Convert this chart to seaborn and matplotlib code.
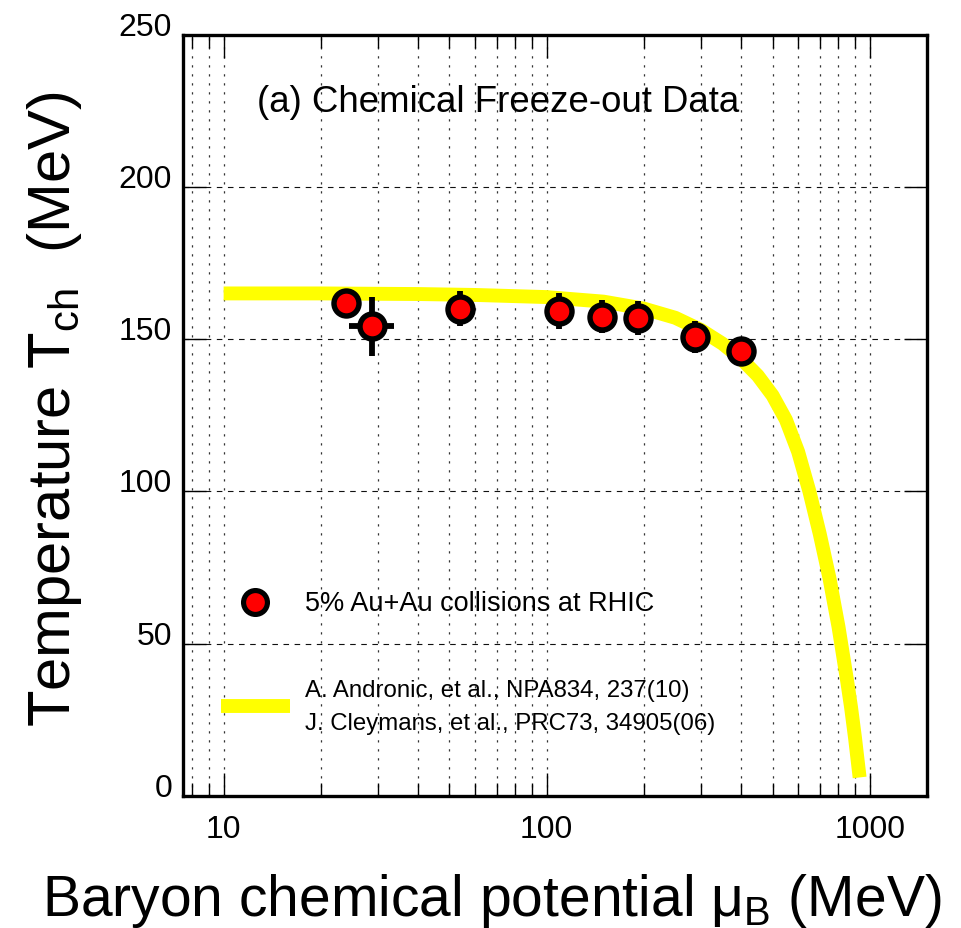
import matplotlib
matplotlib.use("Agg")
import matplotlib.pyplot as plt
import matplotlib.ticker as mticker
from matplotlib.lines import Line2D
import seaborn as sns
import pandas as pd

# Chemical freeze-out points (5% central Au+Au at RHIC)
mu_b = [24.0, 28.8, 54.0, 109.0, 148.0, 192.0, 288.0, 400.0]
t_ch = [162.0, 154.2, 160.0, 159.1, 157.4, 157.0, 150.6, 146.0]
t_err = [4.0, 9.7, 5.7, 5.9, 5.5, 5.6, 5.2, 4.5]
mu_err_lo = [0.0, 4.4, 0.0, 0.0, 0.0, 0.0, 0.0, 0.0]
mu_err_hi = [0.0, 4.8, 0.0, 0.0, 0.0, 0.0, 0.0, 0.0]

# Statistical-model freeze-out curve (Andronic et al. / Cleymans et al.)
curve_mu = [10, 20, 40, 60, 100, 150, 200, 250, 300, 350, 400, 450, 500,
            550, 600, 650, 700, 750, 800, 850, 875, 900, 930]
curve_t = [165.0, 165.0, 164.8, 164.5, 163.8, 162.3, 160.0, 157.0, 153.0,
           148.5, 143.5, 138.0, 131.5, 123.5, 113.0, 100.0, 86.0, 71.5,
           55.5, 38.0, 29.0, 19.0, 6.0]

x_ticks = [10, 100, 1000]
y_ticks = [0, 50, 100, 150, 200, 250]

points = pd.DataFrame({"mu": mu_b, "T": t_ch})
curve = pd.DataFrame({"mu": curve_mu, "T": curve_t})

sns.set_theme(style="ticks")
plt.rcParams["font.family"] = ["Liberation Sans", "DejaVu Sans"]
plt.rcParams["mathtext.fontset"] = "custom"
plt.rcParams["mathtext.rm"] = "Liberation Sans"
plt.rcParams["mathtext.it"] = "Liberation Sans:italic"
plt.rcParams["axes.edgecolor"] = "black"
plt.rcParams["xtick.color"] = "black"
plt.rcParams["ytick.color"] = "black"
plt.rcParams["text.color"] = "black"
plt.rcParams["axes.labelcolor"] = "black"

fig = plt.figure(figsize=(9.62, 9.29), dpi=100)
ax = fig.add_axes([0.1905, 0.1424, 0.7728, 0.8192])

yellow = "#ffff00"
sns.lineplot(data=curve, x="mu", y="T", ax=ax, color=yellow, linewidth=10,
             sort=False, zorder=2, solid_capstyle="butt", solid_joinstyle="round")
ax.errorbar(mu_b, t_ch, yerr=t_err, xerr=[mu_err_lo, mu_err_hi], fmt="none",
            ecolor="black", elinewidth=4.2, capsize=0, zorder=3)
sns.scatterplot(data=points, x="mu", y="T", ax=ax, s=324, color="red",
                edgecolor="black", linewidth=3.9, zorder=4)

ax.set_xscale("log")
ax.set_xlim(7.5, 1500)
ax.set_ylim(0, 250)
ax.set_xticks(x_ticks)
ax.set_xticklabels([str(v) for v in x_ticks])
ax.xaxis.set_minor_locator(mticker.LogLocator(base=10, subs=range(2, 10)))
ax.xaxis.set_minor_formatter(mticker.NullFormatter())
ax.set_yticks(y_ticks)
ax.set_yticklabels([str(v) for v in y_ticks])
ax.yaxis.set_minor_locator(mticker.NullLocator())

for s in ax.spines.values():
    s.set_linewidth(2.4)
    s.set_color("black")

ax.tick_params(which="major", direction="in", length=16.5, width=1.0,
               top=True, right=True, labelsize=23, labelcolor="black")
ax.tick_params(which="minor", direction="in", length=9.4, width=1.0,
               top=True, right=True)
ax.tick_params(axis="x", which="major", pad=13)
ax.tick_params(axis="y", which="major", pad=8)
plt.setp(ax.get_yticklabels(), va="baseline")

ax.grid(which="both", axis="x", color="#333333", linestyle=(0, (1.8, 5.4)),
        linewidth=0.9)
ax.grid(which="major", axis="y", color="#111111", linestyle=(0, (5, 5)),
        linewidth=0.8)
ax.set_axisbelow(True)

ax.set_xlabel("")
ax.set_ylabel("")
fig.text(0.511, 0.014, r"Baryon chemical potential μ$_\mathrm{B}$ (MeV)",
         fontsize=41, ha="center", va="baseline")
fig.text(0.057, 0.56, r"Temperature T$_\mathrm{ch}$  (MeV)", fontsize=43,
         rotation=90, ha="center", va="center")

ax.text(0.0987, 0.900, "(a) Chemical Freeze-out Data", transform=ax.transAxes,
        fontsize=26.4, ha="left", va="baseline")

handles = [
    Line2D([], [], marker="o", linestyle="none", markersize=17.2,
           markerfacecolor="red", markeredgecolor="black", markeredgewidth=3.7),
    Line2D([], [], color=yellow, linewidth=10, solid_capstyle="butt"),
]
labels = [
    "5% Au+Au collisions at RHIC",
    "A. Andronic, et al., NPA834, 237(10)\nJ. Cleymans, et al., PRC73, 34905(06)",
]
leg = ax.legend(handles, labels, loc="upper left", bbox_to_anchor=(0.0507, 0.270),
                frameon=False, fontsize=17.3, borderpad=0, borderaxespad=0,
                handlelength=2.875, handletextpad=0.62, labelspacing=2.6)
leg.get_texts()[0].set_fontsize(19.5)
leg.get_texts()[1].set_linespacing(1.65)

fig.savefig("out.png", dpi=100, facecolor="white")
